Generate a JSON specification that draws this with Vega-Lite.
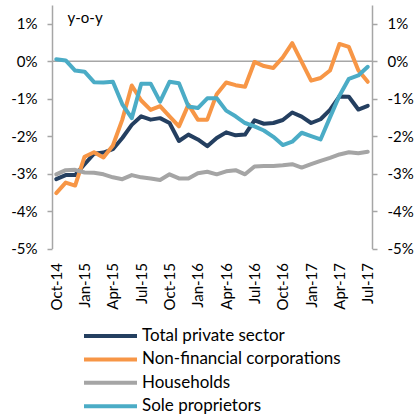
{
"$schema": "https://vega.github.io/schema/vega-lite/v6.json",
"width": 320,
"height": 243.5,
"autosize": {"type": "none"},
"padding": {"left": 52, "top": 5, "right": 45, "bottom": 171.5},
"background": "white",
"config": {"view": {"stroke": null}, "font": "Lato", "axis": {"grid": false}},
"layer": [
{
"data": {"values": [{}]},
"mark": {"type": "rule", "color": "#a6a6a6", "strokeWidth": 1.5},
"encoding": {
"y": {"datum": 0, "type": "quantitative", "scale": {"domain": [-5, 1.5], "nice": false, "zero": false},
"axis": {"orient": "right", "values": [-5,-4,-3,-2,-1,0,1], "labelExpr": "datum.value + '%'", "domainColor": "#a6a6a6", "domainWidth": 1.5, "tickColor": "#a6a6a6", "tickWidth": 1.5, "tickSize": 5, "labelPadding": 10, "labelFontSize": 15, "labelColor": "#000000", "title": null}}
}
},
{
"data": {"values": [
{"m":"Oct-14","s":"Total private sector","v":-3.15},{"m":"Nov-14","s":"Total private sector","v":-3.04},{"m":"Dec-14","s":"Total private sector","v":-3.04},{"m":"Jan-15","s":"Total private sector","v":-2.75},{"m":"Feb-15","s":"Total private sector","v":-2.47},{"m":"Mar-15","s":"Total private sector","v":-2.44},{"m":"Apr-15","s":"Total private sector","v":-2.35},{"m":"May-15","s":"Total private sector","v":-2.05},{"m":"Jun-15","s":"Total private sector","v":-1.7},{"m":"Jul-15","s":"Total private sector","v":-1.47},{"m":"Aug-15","s":"Total private sector","v":-1.56},{"m":"Sep-15","s":"Total private sector","v":-1.52},{"m":"Oct-15","s":"Total private sector","v":-1.65},{"m":"Nov-15","s":"Total private sector","v":-2.13},{"m":"Dec-15","s":"Total private sector","v":-1.96},{"m":"Jan-16","s":"Total private sector","v":-2.09},{"m":"Feb-16","s":"Total private sector","v":-2.27},{"m":"Mar-16","s":"Total private sector","v":-2.05},{"m":"Apr-16","s":"Total private sector","v":-1.9},{"m":"May-16","s":"Total private sector","v":-1.98},{"m":"Jun-16","s":"Total private sector","v":-1.96},{"m":"Jul-16","s":"Total private sector","v":-1.58},{"m":"Aug-16","s":"Total private sector","v":-1.67},{"m":"Sep-16","s":"Total private sector","v":-1.65},{"m":"Oct-16","s":"Total private sector","v":-1.57},{"m":"Nov-16","s":"Total private sector","v":-1.37},{"m":"Dec-16","s":"Total private sector","v":-1.48},{"m":"Jan-17","s":"Total private sector","v":-1.65},{"m":"Feb-17","s":"Total private sector","v":-1.55},{"m":"Mar-17","s":"Total private sector","v":-1.3},{"m":"Apr-17","s":"Total private sector","v":-0.94},{"m":"May-17","s":"Total private sector","v":-0.95},{"m":"Jun-17","s":"Total private sector","v":-1.29},{"m":"Jul-17","s":"Total private sector","v":-1.19},
{"m":"Oct-14","s":"Non-financial corporations","v":-3.52},{"m":"Nov-14","s":"Non-financial corporations","v":-3.24},{"m":"Dec-14","s":"Non-financial corporations","v":-3.32},{"m":"Jan-15","s":"Non-financial corporations","v":-2.55},{"m":"Feb-15","s":"Non-financial corporations","v":-2.43},{"m":"Mar-15","s":"Non-financial corporations","v":-2.57},{"m":"Apr-15","s":"Non-financial corporations","v":-2.25},{"m":"May-15","s":"Non-financial corporations","v":-1.56},{"m":"Jun-15","s":"Non-financial corporations","v":-0.65},{"m":"Jul-15","s":"Non-financial corporations","v":-1.05},{"m":"Aug-15","s":"Non-financial corporations","v":-1.3},{"m":"Sep-15","s":"Non-financial corporations","v":-1.2},{"m":"Oct-15","s":"Non-financial corporations","v":-1.47},{"m":"Nov-15","s":"Non-financial corporations","v":-1.74},{"m":"Dec-15","s":"Non-financial corporations","v":-1.16},{"m":"Jan-16","s":"Non-financial corporations","v":-1.56},{"m":"Feb-16","s":"Non-financial corporations","v":-1.56},{"m":"Mar-16","s":"Non-financial corporations","v":-0.88},{"m":"Apr-16","s":"Non-financial corporations","v":-0.57},{"m":"May-16","s":"Non-financial corporations","v":-0.64},{"m":"Jun-16","s":"Non-financial corporations","v":-0.68},{"m":"Jul-16","s":"Non-financial corporations","v":-0.02},{"m":"Aug-16","s":"Non-financial corporations","v":-0.13},{"m":"Sep-16","s":"Non-financial corporations","v":-0.18},{"m":"Oct-16","s":"Non-financial corporations","v":0.1},{"m":"Nov-16","s":"Non-financial corporations","v":0.48},{"m":"Dec-16","s":"Non-financial corporations","v":-0.02},{"m":"Jan-17","s":"Non-financial corporations","v":-0.52},{"m":"Feb-17","s":"Non-financial corporations","v":-0.45},{"m":"Mar-17","s":"Non-financial corporations","v":-0.25},{"m":"Apr-17","s":"Non-financial corporations","v":0.46},{"m":"May-17","s":"Non-financial corporations","v":0.38},{"m":"Jun-17","s":"Non-financial corporations","v":-0.24},{"m":"Jul-17","s":"Non-financial corporations","v":-0.55},
{"m":"Oct-14","s":"Households","v":-3.02},{"m":"Nov-14","s":"Households","v":-2.91},{"m":"Dec-14","s":"Households","v":-2.9},{"m":"Jan-15","s":"Households","v":-2.97},{"m":"Feb-15","s":"Households","v":-2.98},{"m":"Mar-15","s":"Households","v":-3.02},{"m":"Apr-15","s":"Households","v":-3.1},{"m":"May-15","s":"Households","v":-3.15},{"m":"Jun-15","s":"Households","v":-3.04},{"m":"Jul-15","s":"Households","v":-3.1},{"m":"Aug-15","s":"Households","v":-3.13},{"m":"Sep-15","s":"Households","v":-3.17},{"m":"Oct-15","s":"Households","v":-3.02},{"m":"Nov-15","s":"Households","v":-3.13},{"m":"Dec-15","s":"Households","v":-3.13},{"m":"Jan-16","s":"Households","v":-2.99},{"m":"Feb-16","s":"Households","v":-2.95},{"m":"Mar-16","s":"Households","v":-3.02},{"m":"Apr-16","s":"Households","v":-2.94},{"m":"May-16","s":"Households","v":-2.91},{"m":"Jun-16","s":"Households","v":-3.02},{"m":"Jul-16","s":"Households","v":-2.81},{"m":"Aug-16","s":"Households","v":-2.8},{"m":"Sep-16","s":"Households","v":-2.8},{"m":"Oct-16","s":"Households","v":-2.78},{"m":"Nov-16","s":"Households","v":-2.75},{"m":"Dec-16","s":"Households","v":-2.84},{"m":"Jan-17","s":"Households","v":-2.75},{"m":"Feb-17","s":"Households","v":-2.66},{"m":"Mar-17","s":"Households","v":-2.58},{"m":"Apr-17","s":"Households","v":-2.49},{"m":"May-17","s":"Households","v":-2.43},{"m":"Jun-17","s":"Households","v":-2.46},{"m":"Jul-17","s":"Households","v":-2.42},
{"m":"Oct-14","s":"Sole proprietors","v":0.05},{"m":"Nov-14","s":"Sole proprietors","v":0.02},{"m":"Dec-14","s":"Sole proprietors","v":-0.25},{"m":"Jan-15","s":"Sole proprietors","v":-0.28},{"m":"Feb-15","s":"Sole proprietors","v":-0.56},{"m":"Mar-15","s":"Sole proprietors","v":-0.57},{"m":"Apr-15","s":"Sole proprietors","v":-0.55},{"m":"May-15","s":"Sole proprietors","v":-1.15},{"m":"Jun-15","s":"Sole proprietors","v":-1.52},{"m":"Jul-15","s":"Sole proprietors","v":-0.6},{"m":"Aug-15","s":"Sole proprietors","v":-0.6},{"m":"Sep-15","s":"Sole proprietors","v":-1.08},{"m":"Oct-15","s":"Sole proprietors","v":-0.55},{"m":"Nov-15","s":"Sole proprietors","v":-0.59},{"m":"Dec-15","s":"Sole proprietors","v":-1.21},{"m":"Jan-16","s":"Sole proprietors","v":-1.25},{"m":"Feb-16","s":"Sole proprietors","v":-0.99},{"m":"Mar-16","s":"Sole proprietors","v":-0.99},{"m":"Apr-16","s":"Sole proprietors","v":-1.32},{"m":"May-16","s":"Sole proprietors","v":-1.47},{"m":"Jun-16","s":"Sole proprietors","v":-1.65},{"m":"Jul-16","s":"Sole proprietors","v":-1.74},{"m":"Aug-16","s":"Sole proprietors","v":-1.85},{"m":"Sep-16","s":"Sole proprietors","v":-2.02},{"m":"Oct-16","s":"Sole proprietors","v":-2.24},{"m":"Nov-16","s":"Sole proprietors","v":-2.15},{"m":"Dec-16","s":"Sole proprietors","v":-1.91},{"m":"Jan-17","s":"Sole proprietors","v":-2.0},{"m":"Feb-17","s":"Sole proprietors","v":-2.09},{"m":"Mar-17","s":"Sole proprietors","v":-1.5},{"m":"Apr-17","s":"Sole proprietors","v":-0.92},{"m":"May-17","s":"Sole proprietors","v":-0.47},{"m":"Jun-17","s":"Sole proprietors","v":-0.38},{"m":"Jul-17","s":"Sole proprietors","v":-0.15}
]},
"mark": {"type": "line", "strokeWidth": 4, "strokeJoin": "round", "strokeCap": "round"},
"encoding": {
"x": {"field": "m", "type": "ordinal", "sort": null, "scale": {"type": "point", "padding": 0.45},
"axis": {"domain": false, "ticks": false, "labelAngle": 270, "labelAlign": "right", "labelBaseline": "middle", "labelPadding": 14, "labelFontSize": 15, "labelColor": "#000000", "title": null,
"labelExpr": "indexof(['Jan','Apr','Jul','Oct'], slice(datum.label,0,3)) >= 0 ? datum.label : ''"}},
"y": {"field": "v", "type": "quantitative", "scale": {"domain": [-5, 1.5], "nice": false, "zero": false},
"axis": {"orient": "left", "values": [-5,-4,-3,-2,-1,0,1], "labelExpr": "datum.value + '%'", "domainColor": "#a6a6a6", "domainWidth": 1.5, "tickColor": "#a6a6a6", "tickWidth": 1.5, "tickSize": 5, "labelPadding": 10, "labelFontSize": 15, "labelColor": "#000000",
"title": "y-o-y", "titleAngle": 0, "titleX": 15, "titleY": 12, "titleAlign": "left", "titleBaseline": "middle", "titleFontSize": 15, "titleFontWeight": "normal", "titleColor": "#000000"}},
"color": {"field": "s", "type": "nominal", "sort": null,
"scale": {"domain": ["Total private sector", "Non-financial corporations", "Households", "Sole proprietors"], "range": ["#243f60", "#f79646", "#a5a5a5", "#4bacc6"]},
"legend": {"orient": "none", "legendX": 30, "legendY": 321, "direction": "vertical", "title": null, "symbolType": "stroke", "symbolSize": 2809, "symbolStrokeWidth": 4, "clipHeight": 20, "rowPadding": 3.4, "labelOffset": 3, "labelFontSize": 17, "labelColor": "#000000", "labelLimit": 300}}
}
}
],
"resolve": {"axis": {"y": "independent"}}
}
